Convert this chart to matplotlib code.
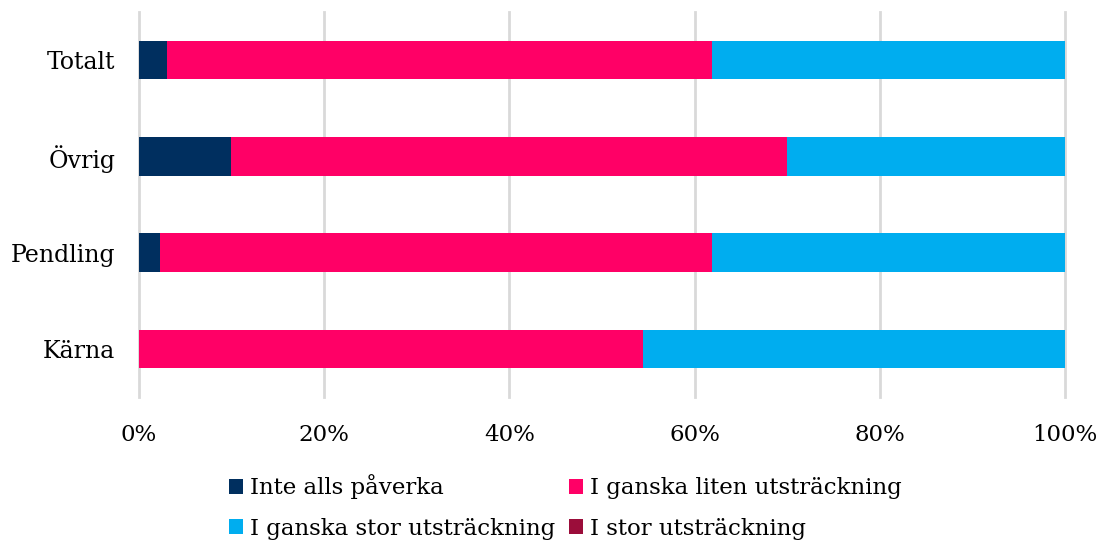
import numpy as np
import matplotlib.pyplot as plt
from matplotlib.ticker import PercentFormatter

#---DATA
categories = ["Kärna", "Pendling", "Övrig", "Totalt"]
series = ["Inte alls påverka", "I ganska liten utsträckning",
          "I ganska stor utsträckning", "I stor utsträckning"]
inte_alls = [0.0, 2.3, 9.9, 3.0]
ganska_liten = [54.4, 59.6, 60.1, 58.9]
ganska_stor = [45.6, 38.1, 30.0, 38.1]
stor = [0.0, 0.0, 0.0, 0.0]
colors = ["#002F5F", "#FF0066", "#00ADEF", "#9B0D3A"]

plt.rcParams['font.family'] = ['DejaVu Serif']

#---PLOT
fig = plt.figure(figsize=(11, 5.44), dpi=100)
ax = fig.add_axes([0.1264, 0.270, 0.8418, 0.708])

y = np.arange(len(categories))
left = np.zeros(len(categories))
bars = []
for name, vals, c in zip(series, [inte_alls, ganska_liten, ganska_stor, stor], colors):
    vals = np.array(vals)
    bars.append(ax.barh(y, vals, left=left, height=0.4, color=c, label=name, zorder=3))
    left += vals

ax.set_xlim(0, 100)
ax.set_ylim(-0.5, 3.5)
ax.set_yticks(y)
ax.set_yticklabels(categories, fontsize=17)
ax.set_xticks(np.arange(0, 101, 20))
ax.xaxis.set_major_formatter(PercentFormatter(decimals=0))
ax.tick_params(axis='x', labelsize=16.5, length=0, pad=19)
ax.tick_params(axis='y', length=0, pad=17)
ax.grid(axis='x', color="#d9d9d9", linewidth=2, zorder=0)
for gl in ax.get_xgridlines():
    gl.set_clip_on(False)
for s in ax.spines.values():
    s.set_visible(False)

# legend filled row by row: reorder for column-major layout
order = [0, 2, 1, 3]
fig.legend([bars[i] for i in order], [series[i] for i in order],
           loc='upper center', bbox_to_anchor=(0.514, 0.128), ncol=2,
           frameon=False, fontsize=16.5, handlelength=0.6, handleheight=0.6,
           handletextpad=0.3, columnspacing=0.6, labelspacing=0.8,
           borderaxespad=0, borderpad=0)

fig.savefig("out.png", dpi=100)
